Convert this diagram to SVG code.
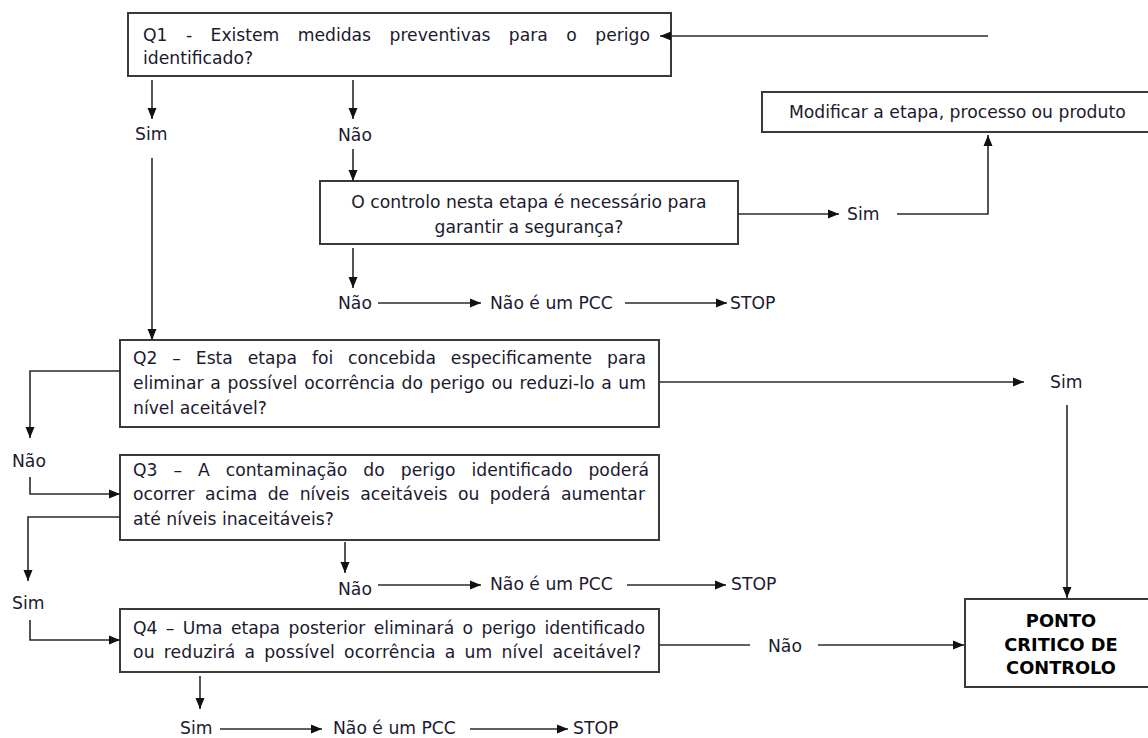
<svg xmlns="http://www.w3.org/2000/svg" width="1148" height="738" viewBox="0 0 1148 738">
<style>
.box{fill:#fff;stroke:#3a3a3a;stroke-width:2}
.t{font-family:"DejaVu Sans","Liberation Sans",sans-serif;font-size:17.2px;fill:#1a1a30}
.c{text-anchor:middle}
.b{font-weight:bold;font-size:17.8px;fill:#000}
.ln{fill:none;stroke:#2a2a2a;stroke-width:1.6}
.ar{marker-end:url(#ah)}
</style>
<defs>
<marker id="ah" markerUnits="userSpaceOnUse" markerWidth="12" markerHeight="10" refX="11" refY="5" orient="auto">
<path d="M0,0.5 L11,5 L0,9.5 z" fill="#111"/>
</marker>
</defs>
<rect width="1148" height="738" fill="#fff"/>

<g id="q1">
<rect class="box" x="128" y="13" width="543" height="63"/>
<text class="t" x="143" y="41" word-spacing="13" textLength="507" lengthAdjust="spacing">Q1 - Existem medidas preventivas para o perigo</text>
<text class="t" x="143" y="64">identificado?</text>
</g>

<g id="q1-sim"><text class="t" x="135" y="140">Sim</text></g>
<g id="q1-nao"><text class="t" x="338" y="141">Não</text></g>

<g id="controlo">
<rect class="box" x="320" y="181" width="418" height="63"/>
<text class="t c" x="529" y="208">O controlo nesta etapa é necessário para</text>
<text class="t c" x="529" y="233">garantir a segurança?</text>
</g>

<g id="controlo-sim"><text class="t" x="847" y="220">Sim</text></g>

<g id="modificar">
<rect class="box" x="762" y="92" width="400" height="40"/>
<text class="t" x="789" y="118">Modificar a etapa, processo ou produto</text>
</g>

<g id="controlo-nao">
<text class="t" x="338" y="309">Não</text>
<text class="t" x="490" y="309">Não é um PCC</text>
<text class="t" x="730" y="309">STOP</text>
</g>

<g id="q2">
<rect class="box" x="120" y="340" width="539" height="87"/>
<text class="t" x="133" y="364" word-spacing="9.5" textLength="513" lengthAdjust="spacing">Q2 – Esta etapa foi concebida especificamente para</text>
<text class="t" x="133" y="389" word-spacing="1" textLength="513" lengthAdjust="spacing">eliminar a possível ocorrência do perigo ou reduzi-lo a um</text>
<text class="t" x="133" y="414">nível aceitável?</text>
</g>

<g id="q2-sim"><text class="t" x="1050" y="388">Sim</text></g>
<g id="q2-nao"><text class="t" x="12" y="467">Não</text></g>

<g id="q3">
<rect class="box" x="120" y="455" width="539" height="85"/>
<text class="t" x="133" y="476" word-spacing="10.5" textLength="516" lengthAdjust="spacing">Q3 – A contaminação do perigo identificado poderá</text>
<text class="t" x="133" y="500" word-spacing="5" textLength="512" lengthAdjust="spacing">ocorrer acima de níveis aceitáveis ou poderá aumentar</text>
<text class="t" x="133" y="525">até níveis inaceitáveis?</text>
</g>

<g id="q3-sim"><text class="t" x="12" y="609">Sim</text></g>

<g id="q3-nao">
<text class="t" x="338" y="595">Não</text>
<text class="t" x="490" y="590">Não é um PCC</text>
<text class="t" x="731" y="590">STOP</text>
</g>

<g id="q4">
<rect class="box" x="120" y="609" width="539" height="63"/>
<text class="t" x="133" y="634" word-spacing="3" textLength="512" lengthAdjust="spacing">Q4 – Uma etapa posterior eliminará o perigo identificado</text>
<text class="t" x="133" y="658" word-spacing="3.5" textLength="508" lengthAdjust="spacing">ou reduzirá a possível ocorrência a um nível aceitável?</text>
</g>

<g id="q4-nao"><text class="t" x="768" y="652">Não</text></g>

<g id="pcc">
<rect class="box" x="965" y="599" width="200" height="88"/>
<text class="t c b" x="1061" y="627">PONTO</text>
<text class="t c b" x="1061" y="651">CRITICO DE</text>
<text class="t c b" x="1061" y="674">CONTROLO</text>
</g>

<g id="q4-sim">
<text class="t" x="180" y="734">Sim</text>
<text class="t" x="333" y="734">Não é um PCC</text>
<text class="t" x="573" y="734">STOP</text>
</g>

<g id="connectors">
<line class="ln ar" x1="988" y1="36" x2="660" y2="36"/>
<line class="ln ar" x1="152" y1="80" x2="152" y2="119"/>
<line class="ln ar" x1="353" y1="80" x2="353" y2="119"/>
<line class="ln ar" x1="353" y1="149" x2="353" y2="181"/>
<line class="ln ar" x1="738" y1="214" x2="839" y2="214"/>
<polyline class="ln ar" points="897,214 988,214 988,135"/>
<line class="ln ar" x1="353" y1="248" x2="353" y2="288"/>
<line class="ln ar" x1="378" y1="303" x2="481" y2="303"/>
<line class="ln ar" x1="625" y1="303" x2="727" y2="303"/>
<line class="ln ar" x1="152" y1="158" x2="152" y2="340"/>
<line class="ln ar" x1="659" y1="382" x2="1024" y2="382"/>
<line class="ln ar" x1="1067" y1="405" x2="1067" y2="598"/>
<polyline class="ln ar" points="120,371 30,371 30,438"/>
<polyline class="ln ar" points="30,477 30,494 120,494"/>
<polyline class="ln ar" points="120,517 28,517 28,581"/>
<polyline class="ln ar" points="30,620 30,640 120,640"/>
<line class="ln ar" x1="345" y1="542" x2="345" y2="573"/>
<line class="ln ar" x1="378" y1="585" x2="481" y2="585"/>
<line class="ln ar" x1="627" y1="585" x2="726" y2="585"/>
<line class="ln" x1="659" y1="645" x2="750" y2="645"/>
<line class="ln ar" x1="818" y1="645" x2="964" y2="645"/>
<line class="ln ar" x1="200" y1="676" x2="200" y2="709"/>
<line class="ln ar" x1="220" y1="729" x2="322" y2="729"/>
<line class="ln ar" x1="470" y1="729" x2="568" y2="729"/>
</g>
</svg>
